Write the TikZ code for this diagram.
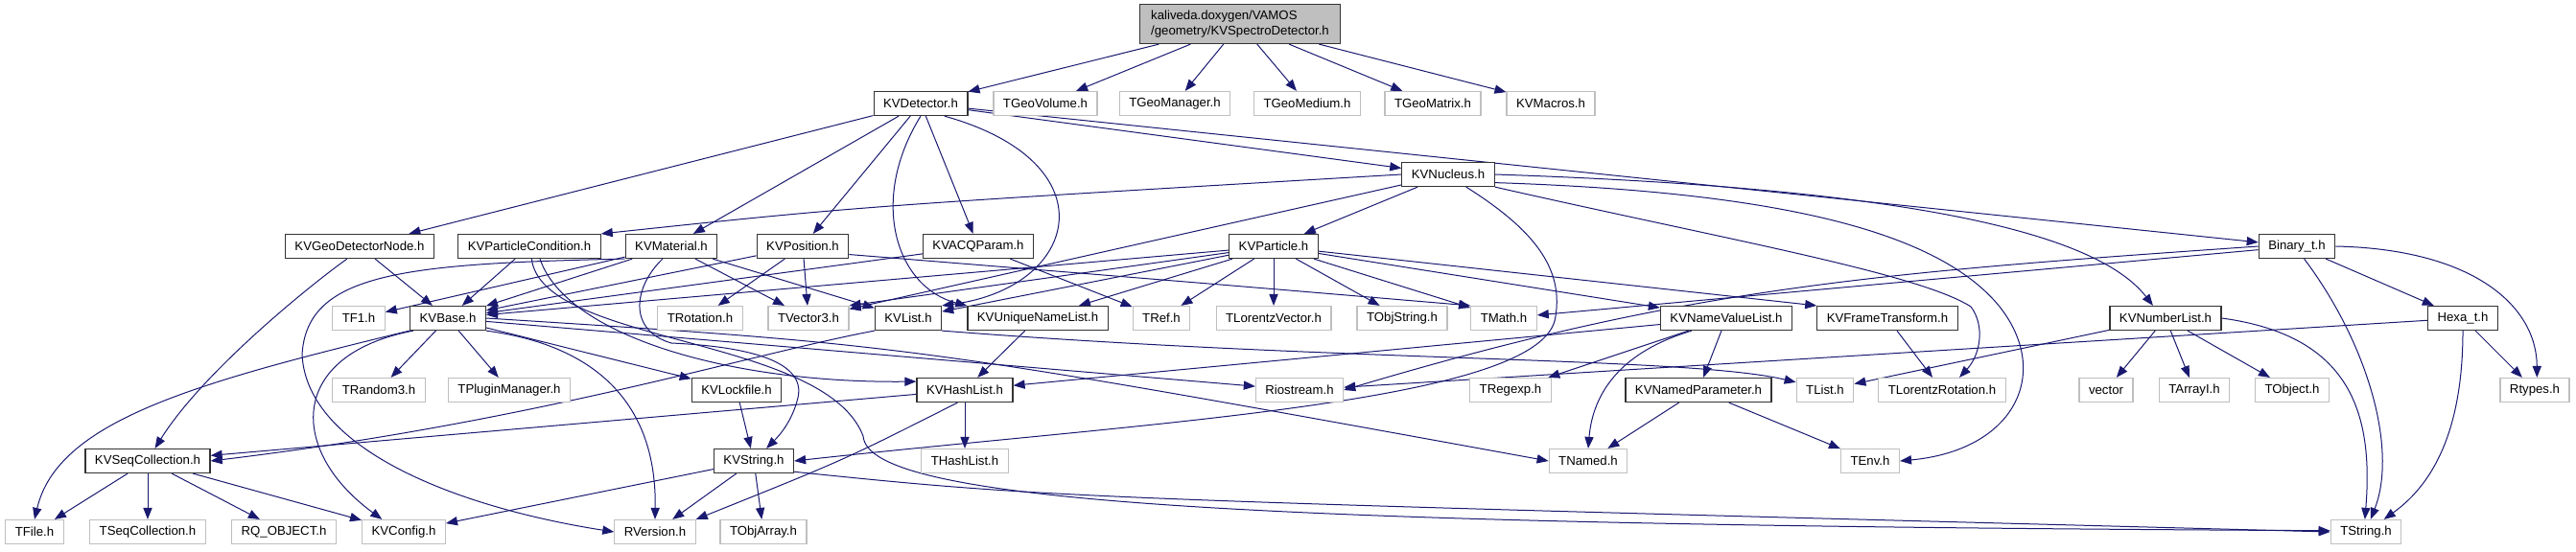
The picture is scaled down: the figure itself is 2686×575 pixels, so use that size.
\documentclass[tikz,border=0pt]{standalone}
\usepackage{fontspec}
\setmainfont{Liberation Sans}
\usetikzlibrary{arrows.meta,backgrounds}
\definecolor{edgeblue}{RGB}{25,25,112}
\definecolor{extgray}{RGB}{191,191,191}
\tikzset{
  hdr/.style={draw=black!80, fill=white, line width=0.6pt, inner xsep=5pt, inner ysep=0pt, minimum height=12.5pt},
  ext/.style={hdr, draw=extgray},
  edge/.style={draw=edgeblue, line width=0.5pt, -{Triangle[length=6pt,width=4.6pt]}},
}
\begin{document}
\begin{tikzpicture}[x=0.5pt,y=-0.5pt,font=\fontsize{6.6}{7.6}\selectfont]
\useasboundingbox (0,0) rectangle (2686,575);
% the file itself
\node[hdr, fill=extgray, align=left, minimum width=104.5pt, minimum height=20.5pt, inner ysep=2pt] (root) at (1293,25) {kaliveda.doxygen/VAMOS\\/geometry/KVSpectroDetector.h};
\node[hdr] (det) at (960,108) {KVDetector.h};
\node[ext] (geovol) at (1090,108) {TGeoVolume.h};
\node[ext] (geoman) at (1225,108) {TGeoManager.h};
\node[ext] (geomed) at (1363,108) {TGeoMedium.h};
\node[ext] (geomat) at (1494,108) {TGeoMatrix.h};
\node[ext] (macros) at (1617,108) {KVMacros.h};
\node[hdr] (nucl) at (1510,182) {KVNucleus.h};
\node[hdr] (gdn) at (375,257) {KVGeoDetectorNode.h};
\node[hdr] (pcond) at (552,257) {KVParticleCondition.h};
\node[hdr] (mat) at (700,257) {KVMaterial.h};
\node[hdr] (pos) at (837,257) {KVPosition.h};
\node[hdr] (acq) at (1020,257) {KVACQParam.h};
\node[hdr] (part) at (1328,257) {KVParticle.h};
\node[hdr] (bin) at (2395,257) {Binary\_t.h};
\node[ext] (tfone) at (374,332) {TF1.h};
\node[hdr] (base) at (467,332) {KVBase.h};
\node[ext] (rot) at (730,332) {TRotation.h};
\node[ext] (vecthree) at (843,332) {TVector3.h};
\node[hdr] (list) at (947,332) {KVList.h};
\node[hdr] (uniq) at (1082,332) {KVUniqueNameList.h};
\node[ext] (tref) at (1211,332) {TRef.h};
\node[ext] (lvec) at (1328,332) {TLorentzVector.h};
\node[ext] (objstr) at (1462,332) {TObjString.h};
\node[ext] (tmath) at (1568,332) {TMath.h};
\node[hdr] (nvl) at (1800,332) {KVNameValueList.h};
\node[hdr] (frame) at (1968,332) {KVFrameTransform.h};
\node[hdr] (numl) at (2258,332) {KVNumberList.h};
\node[hdr] (hexa) at (2568,332) {Hexa\_t.h};
\node[ext] (rand) at (395,407) {TRandom3.h};
\node[ext] (plug) at (531,407) {TPluginManager.h};
\node[hdr] (lock) at (768,407) {KVLockfile.h};
\node[hdr] (hash) at (1006,407) {KVHashList.h};
\node[ext] (rio) at (1355,407) {Riostream.h};
\node[ext] (regexp) at (1575,407) {TRegexp.h};
\node[hdr] (npar) at (1771,407) {KVNamedParameter.h};
\node[ext] (tlist) at (1903,407) {TList.h};
\node[ext] (lrot) at (2025,407) {TLorentzRotation.h};
\node[ext] (vect) at (2196,407) {vector};
\node[ext] (arri) at (2288,407) {TArrayI.h};
\node[ext] (tobj) at (2390,407) {TObject.h};
\node[ext] (rtypes) at (2643,407) {Rtypes.h};
\node[hdr] (seqc) at (154,481) {KVSeqCollection.h};
\node[hdr] (kvstr) at (786,481) {KVString.h};
\node[ext] (thash) at (1006,481) {THashList.h};
\node[ext] (tnamed) at (1656,481) {TNamed.h};
\node[ext] (tenv) at (1950,481) {TEnv.h};
\node[ext] (tfile) at (36,555) {TFile.h};
\node[ext] (tseq) at (154,555) {TSeqCollection.h};
\node[ext] (rq) at (296,555) {RQ\_OBJECT.h};
\node[ext] (config) at (421,555) {KVConfig.h};
\node[ext] (rvers) at (683,555) {RVersion.h};
\node[ext] (objarr) at (796,555) {TObjArray.h};
\node[ext] (tstr) at (2467,555) {TString.h};
\begin{pgfonlayer}{background}
\draw[edge] (root) -- (det);
\draw[edge] (root) -- (geovol);
\draw[edge] (root) -- (geoman);
\draw[edge] (root) -- (geomed);
\draw[edge] (root) -- (geomat);
\draw[edge] (root) -- (macros);
% KVDetector.h
\draw[edge] (det) -- (gdn);
\draw[edge] (det) -- (mat);
\draw[edge] (det) -- (pos);
\draw[edge] (det) -- (acq);
\draw[edge] (det) -- (nucl);
\draw[edge] (det) -- (bin);
\draw[edge] (det.south) .. controls (905,210) and (935,300) .. (uniq.170);
\draw[edge] (det.-28) .. controls (1160,170) and (1125,300) .. (list.north east);
% KVNucleus.h
\draw[edge] (nucl.west) .. controls (900,215) .. (pcond.north east);
\draw[edge] (nucl) -- (part);
\draw[edge] (nucl) -- (vecthree);
\draw[edge] (nucl.-35) .. controls (1600,240) and (1630,280) .. (1622,330) .. controls (1612,420) and (1200,440) .. (kvstr.east);
\draw[edge] (nucl.-10) .. controls (1850,200) and (2020,240) .. (2085,320) .. controls (2140,390) and (2100,470) .. (tenv.east);
\draw[edge] (nucl.south east) .. controls (1800,250) and (2000,285) .. (2055,320) .. controls (2070,340) and (2065,370) .. (lrot.36);
\draw[edge] (nucl.east) .. controls (1950,195) and (2180,235) .. (numl.135);
% KVGeoDetectorNode.h, KVParticleCondition.h
\draw[edge] (gdn) -- (base);
\draw[edge] (gdn.-135) .. controls (320,300) and (210,390) .. (seqc.60);
\draw[edge] (pcond) -- (base);
\draw[edge] (pcond.-50) .. controls (590,350) and (760,400) .. (hash.170);
\draw[edge] (pcond.-80) .. controls (565,360) and (860,350) .. (900,455) .. controls (905,525) and (1300,548) .. (tstr.178);
% KVMaterial.h
\draw[edge] (mat) -- (tfone);
\draw[edge] (mat) -- (base);
\draw[edge] (mat) -- (vecthree);
\draw[edge] (mat) -- (list);
\draw[edge] (mat.south west) .. controls (420,275) and (320,285) .. (315,370) .. controls (320,470) and (480,530) .. (rvers.west);
\draw[edge] (mat.-125) .. controls (660,300) and (655,345) .. (700,358) .. controls (790,362) and (840,380) .. (832,415) .. controls (826,440) and (812,455) .. (kvstr.45);
% KVPosition.h, KVACQParam.h
\draw[edge] (pos) -- (base);
\draw[edge] (pos) -- (rot);
\draw[edge] (pos) -- (vecthree);
\draw[edge] (pos.-10) .. controls (1250,295) .. (tmath.north west);
\draw[edge] (acq) -- (base);
\draw[edge] (acq) -- (tref);
% KVParticle.h
\draw[edge] (part) -- (base);
\draw[edge] (part) -- (vecthree.north east);
\draw[edge] (part) -- (list);
\draw[edge] (part) -- (uniq);
\draw[edge] (part) -- (tref);
\draw[edge] (part) -- (lvec);
\draw[edge] (part) -- (objstr);
\draw[edge] (part) -- (tmath);
\draw[edge] (part) -- (nvl);
\draw[edge] (part) -- (frame.north west);
% Binary_t.h, Hexa_t.h
\draw[edge] (bin) -- (hexa);
\draw[edge] (bin) -- (tmath);
\draw[edge] (bin.west) .. controls (1950,285) and (1760,300) .. (rio.east);
\draw[edge] (bin.-60) .. controls (2470,360) and (2500,470) .. (tstr.70);
\draw[edge] (bin.east) .. controls (2580,260) and (2645,320) .. (rtypes.80);
\draw[edge] (hexa) -- (rio);
\draw[edge] (hexa) -- (rtypes);
\draw[edge] (hexa.south) .. controls (2568,460) and (2530,510) .. (tstr.35);
% KVNumberList.h
\draw[edge] (numl) -- (vect);
\draw[edge] (numl) -- (arri);
\draw[edge] (numl) -- (tobj);
\draw[edge] (numl) -- (tlist);
\draw[edge] (numl.east) .. controls (2450,350) and (2475,430) .. (tstr.95);
% KVBase.h
\draw[edge] (base) -- (rand);
\draw[edge] (base) -- (plug);
\draw[edge] (base) -- (lock);
\draw[edge] (base) -- (rio);
\draw[edge] (base.east) .. controls (950,360) .. (tnamed.west);
\draw[edge] (base.south east) .. controls (620,360) and (685,420) .. (rvers.north);
\draw[edge] (base.south west) .. controls (200,400) and (60,440) .. (tfile.north);
\draw[edge] (base.200) .. controls (300,370) and (300,470) .. (config.150);
% lists
\draw[edge] (list.south west) .. controls (780,370) and (560,440) .. (seqc.east);
\draw[edge] (list.south east) .. controls (1400,378) and (1760,372) .. (tlist.165);
\draw[edge] (uniq) -- (hash);
\draw[edge] (hash) -- (seqc);
\draw[edge] (hash) -- (thash);
\draw[edge] (hash.-120) .. controls (880,480) .. (rvers.north east);
\draw[edge] (nvl) -- (hash);
\draw[edge] (nvl) -- (regexp);
\draw[edge] (nvl) -- (npar);
\draw[edge] (nvl.-160) .. controls (1680,370) and (1660,420) .. (tnamed.north);
\draw[edge] (npar) -- (tnamed);
\draw[edge] (npar) -- (tenv);
\draw[edge] (frame) -- (lrot);
\draw[edge] (lock) -- (kvstr);
% KVString.h, KVSeqCollection.h
\draw[edge] (kvstr) -- (config);
\draw[edge] (kvstr) -- (rvers);
\draw[edge] (kvstr) -- (objarr);
\draw[edge] (kvstr.-15) .. controls (1100,520) .. (tstr.west);
\draw[edge] (seqc) -- (tfile);
\draw[edge] (seqc) -- (tseq);
\draw[edge] (seqc) -- (rq);
\draw[edge] (seqc) -- (config);
\end{pgfonlayer}
\end{tikzpicture}
\end{document}
